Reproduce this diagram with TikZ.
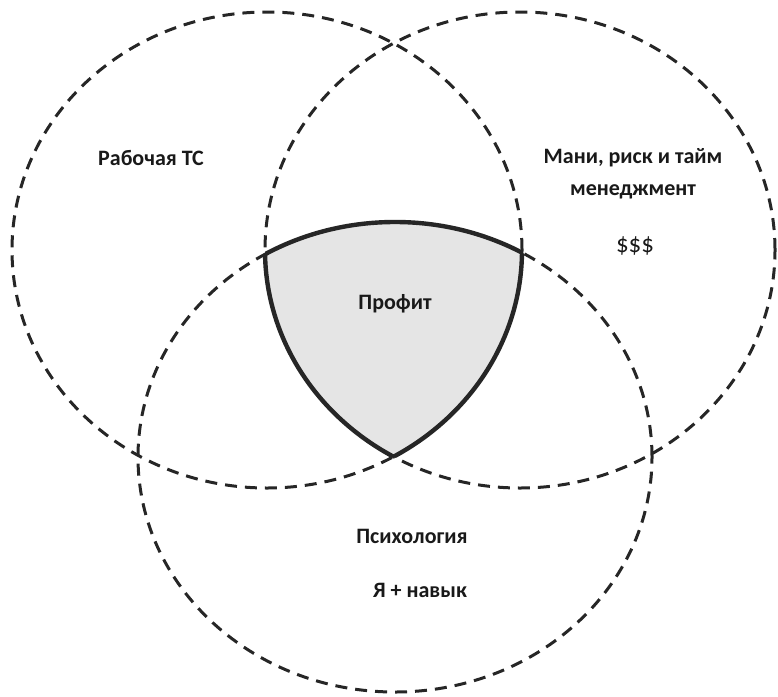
\documentclass[tikz,border=0pt]{standalone}
\usepackage{fontspec}
\setmainfont{Carlito}
\begin{document}
\begin{tikzpicture}[x=1pt,y=-1pt,
  venn/.style={draw=black!85,line width=3pt,dash pattern=on 12pt off 8pt},
  rim/.style={draw=black!85,line width=4.4pt},
  lbl/.style={font=\fontsize{22}{26}\selectfont\bfseries,text=black!90,inner sep=0pt},
  lblreg/.style={font=\fontsize{25}{29}\selectfont,text=black!90,inner sep=0pt}]
\useasboundingbox (0,0) rectangle (778,696);
\def\ellL{(267,250) ellipse [x radius=255pt, y radius=238pt]}
\def\ellR{(520,250) ellipse [x radius=255pt, y radius=238pt]}
\def\ellB{(395,457) ellipse [x radius=257pt, y radius=235pt]}
% profit region fill
\begin{scope}
  \clip \ellL; \clip \ellR;
  \fill[black!10] \ellB;
\end{scope}
% solid rim of profit region
\begin{scope}\clip \ellL; \clip \ellR; \draw[rim] \ellB; \end{scope}
\begin{scope}\clip \ellL; \clip \ellB; \draw[rim] \ellR; \end{scope}
\begin{scope}\clip \ellR; \clip \ellB; \draw[rim] \ellL; \end{scope}
% dashed circles
\draw[venn] \ellL;
\draw[venn] \ellR;
\draw[venn] \ellB;
% labels
\node[lbl] (work) at (151,158) {Рабочая ТС};
\node[lbl] (money1) at (633,158) {Мани, риск и тайм};
\node[lbl] (money2) at (633,192) {менеджмент};
\node[lblreg] (money3) at (635,246) {\$\$\$};
\node[lbl] (profit) at (395,304) {Профит};
\node[lbl] (psy) at (412,536) {Психология};
\node[lbl] (skill) at (420,590) {Я + навык};
\end{tikzpicture}
\end{document}
